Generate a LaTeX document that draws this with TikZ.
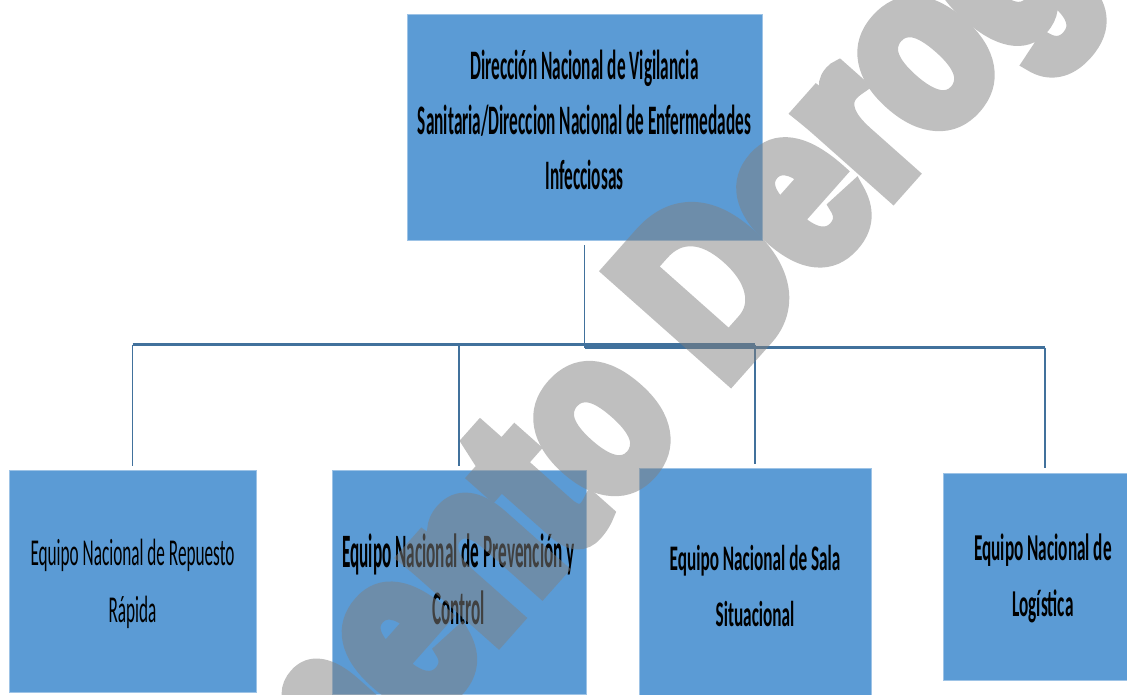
\documentclass[tikz,border=0pt]{standalone}
\usepackage{fontspec}
\setmainfont{Carlito}
\newfontfamily\topfont[FakeStretch=0.411]{Carlito}
\newfontfamily\rrfont[FakeStretch=0.453]{Carlito}
\newfontfamily\pcfont[FakeStretch=0.358]{Carlito}
\newfontfamily\salafont[FakeStretch=0.478]{Carlito}
\newfontfamily\logfont[FakeStretch=0.453]{Carlito}
\newfontfamily\wmfont[FakeStretch=0.82,FakeBold=7]{Liberation Sans}
\definecolor{boxblue}{HTML}{5B9BD5}
\definecolor{boxedge}{HTML}{9DC3E6}
\definecolor{linkblue}{HTML}{41719C}
\definecolor{wmgray}{RGB}{128,128,128}
\newcommand{\firstline}{\rule{0pt}{1em}}
\begin{document}
\begin{tikzpicture}[x=1pt,y=-1pt,
  orgbox/.style={rectangle, fill=boxblue, draw=boxedge, line width=0.8pt, inner sep=0pt},
  boxtext/.style={inner sep=0pt, align=center, anchor=north, text=black},
  vlink/.style={draw=linkblue, line width=1.5pt},
  buslink/.style={draw=linkblue, line width=3pt},
  wmark/.style={font=\wmfont\bfseries\fontsize{233}{240}\selectfont, text=wmgray, inner sep=0pt}]
\useasboundingbox (0,0) rectangle (1127,694);
\clip (0,0) rectangle (1127,694);
\fill[white] (0,0) rectangle (1127,694);

% boxes
\node[orgbox, minimum width=355pt, minimum height=226pt] (dir) at (584.5,127) {};
\node[orgbox, minimum width=247pt, minimum height=222pt] (rr) at (132.5,581) {};
\node[orgbox, minimum width=254pt, minimum height=224pt] (pc) at (459,582) {};
\node[orgbox, minimum width=232pt, minimum height=238pt] (sala) at (755,587) {};
\node[orgbox, minimum width=204pt, minimum height=207pt] (log) at (1045,576.5) {};

% texts (north = first baseline - 1em)
\node[boxtext, font=\topfont\bfseries\fontsize{42}{55}\selectfont] (dirtxt) at (584.5,37)
  {\firstline Dirección Nacional de Vigilancia\\Sanitaria/Direccion Nacional de Enfermedades\\Infecciosas};
\node[boxtext, font=\rrfont\fontsize{38}{57}\selectfont] (rrtxt) at (132.5,527)
  {\firstline Equipo Nacional de Repuesto\\Rápida};
\node[boxtext, font=\pcfont\bfseries\fontsize{48}{57}\selectfont] (pctxt) at (458.5,519)
  {\firstline Equipo Nacional de Prevención y\\Control};
\node[boxtext, font=\salafont\bfseries\fontsize{36}{56}\selectfont] (salatxt) at (755,534)
  {\firstline Equipo Nacional de Sala\\Situacional};
\node[boxtext, font=\logfont\bfseries\fontsize{38}{56}\selectfont] (logtxt) at (1043,522)
  {\firstline Equipo Nacional de\\Logística};

% connectors
\coordinate (hub) at (584.5,347.5);
\coordinate (busL) at (132.5,344.5);
\coordinate (busM) at (755,344.5);
\coordinate (busR) at (1045,347.5);

\draw[vlink, shorten <=5pt] (dir.south) -- (hub);
\draw[buslink] (busL) -- (busM);
\draw[buslink] (hub) -- (busR);
\draw[vlink, shorten >=4pt] (busL) -- (rr.north);
\draw[vlink, shorten >=4pt] (pc.north |- busL) -- (pc.north);
\draw[vlink, shorten >=4pt] (busM) -- (sala.north);
\draw[vlink, shorten >=5pt] (busR) -- (log.north);

% watermark
\begin{scope}[transparency group, opacity=0.5]
\node[wmark, anchor=base west, rotate=48.4] (wm) at (-11,1212) {Documento Derogado};
\end{scope}
\end{tikzpicture}
\end{document}
